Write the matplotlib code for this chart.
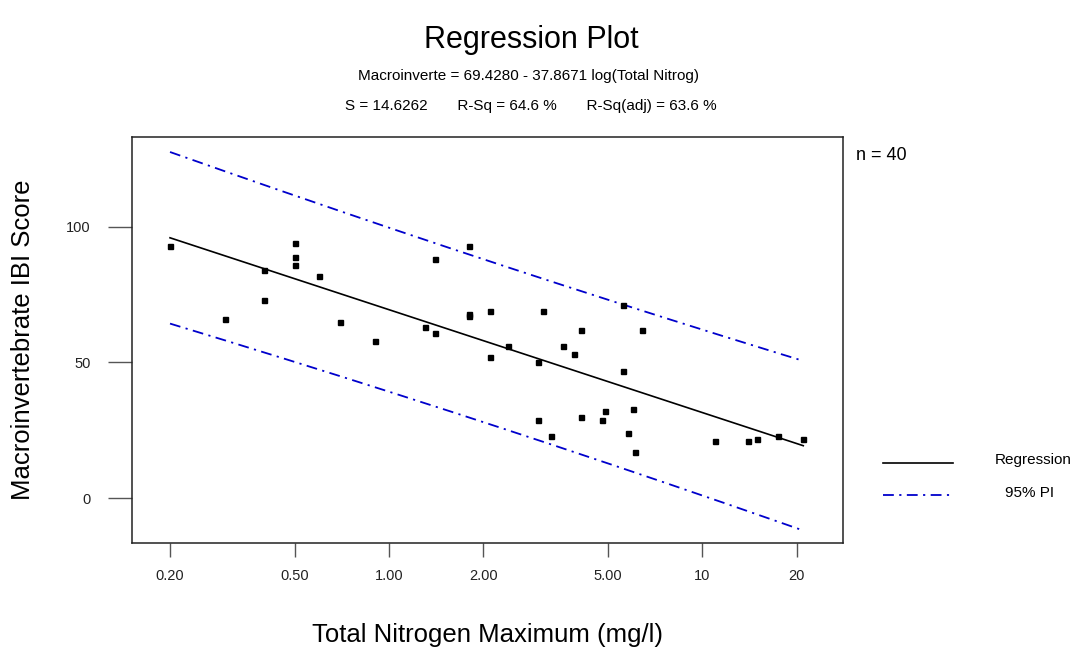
import numpy as np
import matplotlib
matplotlib.use("Agg")
import matplotlib.pyplot as plt
from matplotlib.lines import Line2D

plt.rcParams['font.family'] = ['Liberation Sans', 'DejaVu Sans']

# Data
nitrogen = [0.2, 0.3, 0.4, 0.4, 0.5, 0.5, 0.5, 0.6, 0.7, 0.9,
            1.3, 1.4, 1.4, 1.8, 1.8, 1.8, 2.1, 2.1, 2.4, 3.0,
            3.0, 3.1, 3.3, 3.6, 3.9, 4.1, 4.1, 4.8, 4.9, 5.6,
            5.6, 6.4, 6.0, 5.8, 6.1, 11, 14, 15, 17.5, 21]
ibi = [93, 66, 84, 73, 94, 89, 86, 82, 65, 58,
       63, 61, 88, 93, 68, 67, 69, 52, 56, 50,
       29, 69, 23, 56, 53, 62, 30, 29, 32, 71,
       47, 62, 33, 24, 17, 21, 21, 22, 23, 22]

intercept = 69.4280
slope = -37.8671
s_err = 14.6262
t_crit = 2.0244  # t(0.975, df=38)

xticks = [0.2, 0.5, 1.0, 2.0, 5.0, 10, 20]
xtick_labels = ["0.20", "0.50", "1.00", "2.00", "5.00", "10", "20"]
yticks = [0, 50, 100]

W, H = 1078, 654
fig = plt.figure(figsize=(W / 100, H / 100), dpi=100)
ax = fig.add_axes([132 / W, 1 - 543 / H, (843 - 132) / W, (543 - 137) / H])

x = np.array(nitrogen)
y = np.array(ibi)
lx = np.log10(x)
n = len(x)
xbar = lx.mean()
sxx = ((lx - xbar) ** 2).sum()

xs = np.logspace(np.log10(x.min()), np.log10(x.max()), 200)
lxs = np.log10(xs)
fit = intercept + slope * lxs
half = t_crit * s_err * np.sqrt(1 + 1 / n + (lxs - xbar) ** 2 / sxx)

pi_style = dict(color='#0000cc', lw=1.3, linestyle=(0, (6, 3, 1.2, 3)))
ax.plot(xs, fit + half, **pi_style)
ax.plot(xs, fit - half, **pi_style)
ax.plot(xs, fit, color='black', lw=1.2)
ax.plot(x, y, linestyle='none', marker='s', markersize=3.6, color='black')

ax.set_xscale('log')
ax.set_xlim(10 ** -0.8203, 10 ** 1.4491)
ax.set_ylim(-16.46, 133.0)
ax.set_xticks(xticks)
ax.set_xticklabels(xtick_labels)
ax.xaxis.set_minor_locator(matplotlib.ticker.NullLocator())
ax.set_yticks(yticks)
ax.tick_params(axis='x', direction='out', length=10, pad=9, width=1,
               color='#555555', labelsize=10.5, labelcolor='#222222')
ax.tick_params(axis='y', direction='out', length=17, pad=13, width=1,
               color='#555555', labelsize=10.5, labelcolor='#222222')
for sp in ax.spines.values():
    sp.set_linewidth(1.1)
    sp.set_color('#222222')

# Titles
fig.text(531 / W, 1 - 40 / H, "Regression Plot", ha='center', va='center', fontsize=22)
fig.text(528 / W, 1 - 76 / H, "Macroinverte = 69.4280 - 37.8671 log(Total Nitrog)",
         ha='center', va='center', fontsize=11)
fig.text(531 / W, 1 - 106 / H,
         "S = 14.6262       R-Sq = 64.6 %       R-Sq(adj) = 63.6 %",
         ha='center', va='center', fontsize=11)

# Axis labels
fig.text(488 / W, 1 - 635 / H, "Total Nitrogen Maximum (mg/l)", ha='center', va='center', fontsize=18.5)
fig.text(23 / W, 1 - 340 / H, "Macroinvertebrate IBI Score", ha='center', va='center',
         rotation=90, fontsize=18.5)

# n annotation
fig.text(856 / W, 1 - 156 / H, f"n = {n}", ha='left', va='center', fontsize=13)

# Legend
fig.add_artist(Line2D([883 / W, 953 / W], [1 - 463 / H, 1 - 463 / H], color='black', lw=1.2))
fig.add_artist(Line2D([883 / W, 953 / W], [1 - 495 / H, 1 - 495 / H], **pi_style))
fig.text(1033 / W, 1 - 460 / H, "Regression", ha='center', va='center', fontsize=11)
fig.text(1030 / W, 1 - 493 / H, "95% PI", ha='center', va='center', fontsize=11)

fig.savefig("out.png", dpi=100)
